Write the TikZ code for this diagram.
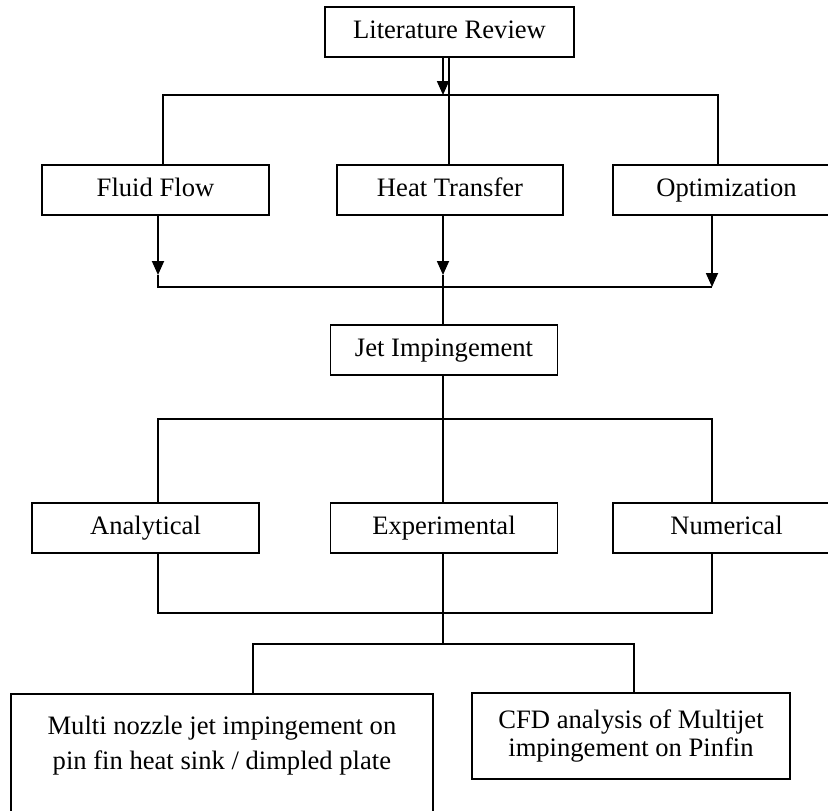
\documentclass[tikz,border=0pt]{standalone}
\usepackage{fontspec}
\setmainfont{Liberation Serif}
\usetikzlibrary{arrows.meta}
\begin{document}
\begin{tikzpicture}[x=1pt,y=-1pt,
  box/.style={draw, line width=1.8pt, inner sep=0pt, minimum height=50pt, minimum width=227pt,
    font=\fontsize{26.6}{32}\selectfont, text height=18pt, text depth=6pt},
  tbox/.style={draw, line width=1.8pt, inner sep=0pt, align=center},
  ln/.style={line width=1.8pt},
  arr/.style={line width=1.8pt, -{Triangle[width=12pt,length=14pt]}}]
\useasboundingbox (0,0) rectangle (828,811);
\fill[white] (0,0) rectangle (828,811);
\clip (0,0) rectangle (828,811);

% nodes
\node[box, minimum width=249pt] (lit) at (449.5,32) {Literature Review};
\node[box] (fluid) at (155.5,190) {Fluid Flow};
\node[box, minimum width=226pt] (heat) at (450,190) {Heat Transfer};
\node[box] (opt) at (726.5,190) {Optimization};
\node[box] (jet) at (444,350) {Jet Impingement};
\node[box] (ana) at (145.5,528) {Analytical};
\node[box] (exp) at (444,528) {Experimental};
\node[box] (num) at (726.5,528) {Numerical};
\node[tbox, anchor=north west, font=\fontsize{26.6}{35}\selectfont] (multi) at (10,693)
  {\parbox[c][150pt][t]{422pt}{\centering\vspace*{22pt}Multi nozzle jet impingement on\\ pin fin heat sink / dimpled plate}};
\node[tbox, minimum width=318pt, minimum height=86pt, font=\fontsize{26.6}{28}\selectfont] (cfd) at (631,736)
  {CFD analysis of Multijet\\ impingement on Pinfin};

% junction coordinates
\coordinate (la) at (443,95);
\coordinate (hb) at (449,95);
\coordinate (fb) at (163,95);
\coordinate (ob) at (718,95);
\coordinate (fl) at (158,275);
\coordinate (hl) at (443,275);
\coordinate (ol) at (712,287);
\coordinate (m1) at (158,419);
\coordinate (m3) at (712,419);
\coordinate (n1) at (158,613);
\coordinate (n3) at (712,613);
\coordinate (k1) at (253,644);
\coordinate (k2) at (443,644);
\coordinate (k3) at (634,644);

% top level
\draw[arr] (la |- lit.south) -- (la);
\draw[ln] (hb |- lit.south) -- (hb |- heat.north);
\draw[ln] (fb |- fluid.north) -- (fb) -- (ob) -- (ob |- opt.north);

% second level arrows
\draw[arr] (fl |- fluid.south) -- (fl);
\draw[arr] (hl |- heat.south) -- (hl);
\draw[arr] (ol |- opt.south) -- (ol);
\draw[ln] (fl) -- (fl |- ol) -- (ol);
\draw[ln] (hl) -- (hl |- jet.north);

% jet to methods
\draw[ln] (hl |- jet.south) -- (hl |- exp.north);
\draw[ln] (m1 |- ana.north) -- (m1) -- (m3) -- (m3 |- num.north);

% methods join
\draw[ln] (n1 |- ana.south) -- (n1) -- (n3) -- (n3 |- num.south);
\draw[ln] (k2 |- exp.south) -- (k2);
\draw[ln] (k1 |- multi.north) -- (k1) -- (k3) -- (k3 |- cfd.north);
\end{tikzpicture}
\end{document}
